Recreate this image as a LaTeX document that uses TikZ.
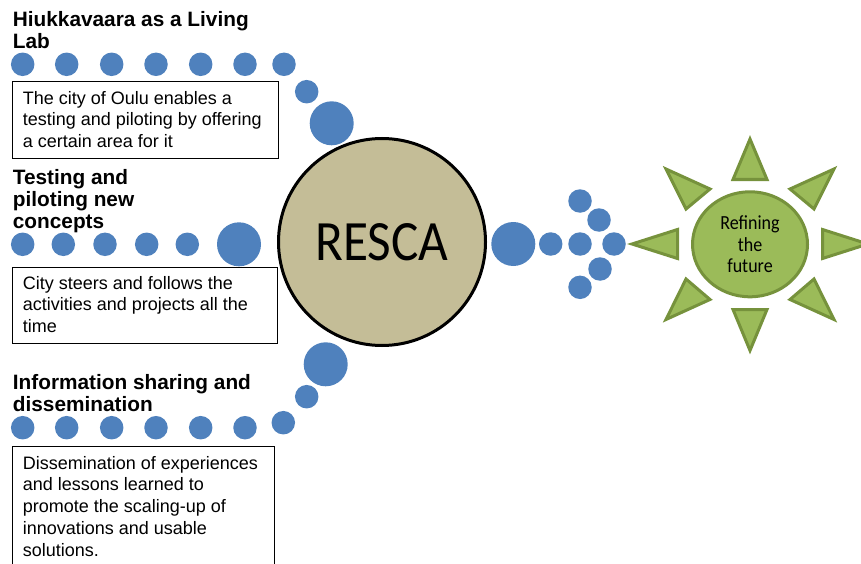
\documentclass[tikz,border=0pt]{standalone}
\usepackage{fontspec}
\setmainfont{Liberation Sans}
\newfontfamily\calfont{Carlito}[FakeStretch=0.9]
\usetikzlibrary{shapes.geometric}

\definecolor{dotblue}{HTML}{4F81BD}
\definecolor{tan}{HTML}{C4BD97}
\definecolor{sunfill}{HTML}{9BBB59}
\definecolor{sunline}{HTML}{76923C}

\tikzset{
  dot/.style={circle, fill=dotblue, inner sep=0pt, minimum size=23.5pt},
  bigdot/.style={dot, minimum size=44pt},
  descbox/.style={draw=black, line width=1pt, rectangle, inner sep=0pt, anchor=north west},
  desctext/.style={anchor=north west, inner sep=0pt, align=left,
    font=\fontsize{18}{21.8}\selectfont},
  heading/.style={anchor=north west, inner sep=0pt, align=left,
    font=\bfseries\fontsize{20.8}{22.3}\selectfont},
  hub/.style={circle, draw=black, line width=3pt, fill=tan, minimum size=207pt,
    inner sep=0pt, font=\calfont\fontsize{57}{60}\selectfont},
  suncore/.style={ellipse, draw=sunline, line width=3pt, fill=sunfill,
    minimum width=115pt, minimum height=105pt, inner sep=0pt, align=center,
    font=\calfont\fontsize{20}{21.5}\selectfont},
  ray/.style={draw=sunline, line width=3pt, fill=sunfill, line join=miter}
}

\begin{document}
\begin{tikzpicture}[x=1pt, y=-1pt]
\useasboundingbox (0,0) rectangle (861,564);
\clip (0,0) rectangle (861,564);

% central hub
\node[hub] (resca) at (382,242) {RESCA};

% first strand: Living Lab
\node[heading] (h1) at (12.7,11.1) {Hiukkavaara as a Living\\Lab};
\foreach \x [count=\i] in {22.7,66.7,111.7,156,200.7,245,284}
  \node[dot] (a\i) at (\x,64.3) {};
\node[dot] (a8) at (306.7,91.7) {};
\node[bigdot] (a9) at (331.7,123.3) {};
\node[descbox, minimum width=266.6pt, minimum height=77.3pt] (box1) at (11.7,81) {};
\node[desctext] (t1) at (22.7,90.9)
  {The city of Oulu enables a\\testing and piloting by offering\\a certain area for it};

% second strand: testing and piloting
\node[heading] (h2) at (12.7,169.1) {Testing and\\piloting new\\concepts};
\foreach \x [count=\i] in {22.7,63.3,105,146.7,187.3}
  \node[dot] (b\i) at (\x,244.3) {};
\node[bigdot] (b6) at (239,244.3) {};
\node[descbox, minimum width=265pt, minimum height=76pt] (box2) at (11.7,266.7) {};
\node[desctext] (t2) at (22.7,275.9)
  {City steers and follows the\\activities and projects all the\\time};

% third strand: information sharing
\node[heading] (h3) at (12.7,374.4) {Information sharing and\\dissemination};
\node[bigdot] (c9) at (325.7,364.3) {};
\node[dot] (c8) at (306.7,396.7) {};
\node[dot] (c7) at (283.3,422.7) {};
\foreach \x [count=\i] in {22.7,66.7,111.7,156,200.7,245}
  \node[dot] (c\i) at (\x,427.7) {};
\node[descbox, minimum width=262.3pt, minimum height=130pt] (box3) at (11.7,446) {};
\node[desctext] (t3) at (22.7,455.9)
  {Dissemination of experiences\\and lessons learned to\\promote the scaling-up of\\innovations and usable\\solutions.};

% dotted arrow towards the sun
\node[bigdot] (d1) at (513.3,244) {};
\node[dot] (d2) at (550.7,244) {};
\node[dot] (d3) at (580,244) {};
\node[dot] (d4) at (614,244) {};
\node[dot] (d5) at (580,201) {};
\node[dot] (d6) at (599,220) {};
\node[dot] (d7) at (600,269) {};
\node[dot] (d8) at (580,287.3) {};

% sun with rays
\path[ray] (750,139) -- (767,179.5) -- (733,179.5) -- cycle;
\path[ray] (750,350.5) -- (767,309.5) -- (733,309.5) -- cycle;
\path[ray] (632,244) -- (677.5,229.5) -- (677.5,258.5) -- cycle;
\path[ray] (868,244) -- (822.5,229.5) -- (822.5,258.5) -- cycle;
\path[ray] (666,169) -- (710,189) -- (686,209) -- cycle;
\path[ray] (834,169) -- (790,189) -- (814,209) -- cycle;
\path[ray] (686,279) -- (710,299.5) -- (666,319.5) -- cycle;
\path[ray] (814,279) -- (790,299.5) -- (834,319.5) -- cycle;
\node[suncore] (sun) at (750,244.3) {Refining\\the\\future};
\end{tikzpicture}
\end{document}
